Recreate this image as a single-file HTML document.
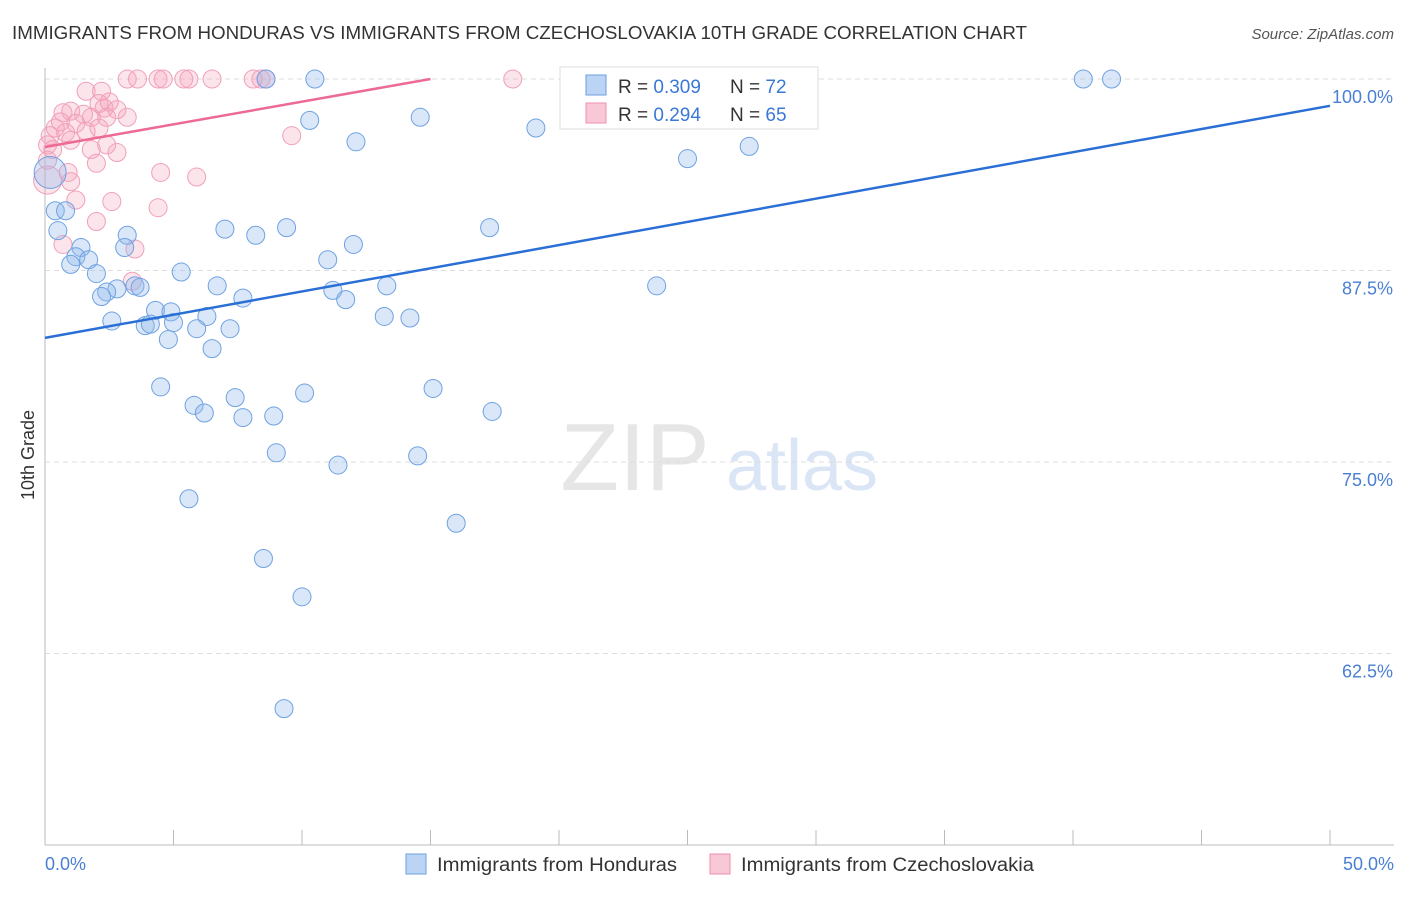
<!DOCTYPE html>
<html><head><meta charset="utf-8">
<style>
body{margin:0;background:#fff;font-family:"Liberation Sans",sans-serif;}
svg text{font-family:"Liberation Sans",sans-serif;}
</style></head>
<body>
<svg width="1406" height="892" xmlns="http://www.w3.org/2000/svg">
<text x="12" y="39" font-size="18" fill="#333" textLength="1015" lengthAdjust="spacingAndGlyphs">IMMIGRANTS FROM HONDURAS VS IMMIGRANTS FROM CZECHOSLOVAKIA 10TH GRADE CORRELATION CHART</text>
<text x="1394" y="39" font-size="15" fill="#555" text-anchor="end" font-style="italic">Source: ZipAtlas.com</text>
<g>
<text x="635" y="490" font-size="96" fill="#e6e6e6" text-anchor="middle" font-family="Liberation Serif">ZIP</text>
<text x="802" y="490" font-size="72" fill="#dae5f5" text-anchor="middle">atlas</text>
</g>
<g id="grid"></g>
<g id="axes"></g>
<g id="pts"></g>
<g id="lines"></g>
<text transform="translate(34,455) rotate(-90)" font-size="18" fill="#333" text-anchor="middle">10th Grade</text>
<text x="45" y="870" font-size="18" fill="#4a7fd4">0.0%</text>
<text x="1394" y="870" font-size="18" fill="#4a7fd4" text-anchor="end">50.0%</text>
<g>
<rect x="560" y="67" width="258" height="62" fill="#fff" stroke="#ddd"/>
<rect x="586" y="75" width="20" height="20" fill="#bcd4f4" stroke="#6a9fe0"/>
<text x="618" y="93" font-size="19" fill="#333">R = <tspan fill="#3a78d6">0.309</tspan></text>
<text x="730" y="93" font-size="19" fill="#333">N = <tspan fill="#3a78d6">72</tspan></text>
<rect x="586" y="103" width="20" height="20" fill="#f9c8d6" stroke="#ee8fae"/>
<text x="618" y="121" font-size="19" fill="#333">R = <tspan fill="#3a78d6">0.294</tspan></text>
<text x="730" y="121" font-size="19" fill="#333">N = <tspan fill="#3a78d6">65</tspan></text>
</g>
<g>
<rect x="406" y="854" width="20" height="20" fill="#bcd4f4" stroke="#6a9fe0"/>
<text x="437" y="871" font-size="19" fill="#333" textLength="240" lengthAdjust="spacingAndGlyphs">Immigrants from Honduras</text>
<rect x="710" y="854" width="20" height="20" fill="#f9c8d6" stroke="#ee8fae"/>
<text x="741" y="871" font-size="19" fill="#333" textLength="293" lengthAdjust="spacingAndGlyphs">Immigrants from Czechoslovakia</text>
</g>
</svg>
<script>
const yTicks=[100,87.5,75,62.5];
const yTickLabels=["100.0%","87.5%","75.0%","62.5%"];
const xTicks=[0,5,10,15,20,25,30,35,40,45,50];
const blueX=[8.6,10.5,24.4,28.1,40.4,41.5,10.3,14.6,19.1,12.1,25.0,27.4,0.2,0.4,0.8,0.5,7.0,8.2,9.4,17.3,3.2,3.1,1.4,1.2,1.7,1.0,2.0,11.0,12.0,5.3,6.7,2.8,2.4,2.2,3.5,3.7,11.2,11.7,13.3,7.7,23.8,4.3,4.9,2.6,3.9,4.1,5.0,6.3,5.9,7.2,4.8,6.5,13.2,14.2,4.5,10.1,15.1,7.4,5.8,6.2,7.7,8.9,17.4,9.0,14.5,11.4,5.6,16.0,8.5,10.0,9.3];
const blueY=[100,100,100,100,100,100,97.3,97.5,96.8,95.9,94.8,95.6,93.9,91.4,91.4,90.1,90.2,89.8,90.3,90.3,89.8,89.0,89.0,88.4,88.2,87.9,87.3,88.2,89.2,87.4,86.5,86.3,86.1,85.8,86.5,86.4,86.2,85.6,86.5,85.7,86.5,84.9,84.8,84.2,83.9,84.0,84.1,84.5,83.7,83.7,83.0,82.4,84.5,84.4,79.9,79.5,79.8,79.2,78.7,78.2,77.9,78.0,78.3,75.6,75.4,74.8,72.6,71.0,68.7,66.2,58.9];
const pinkX=[3.2,3.6,4.4,4.6,5.4,5.6,6.5,8.1,8.4,8.6,18.2,1.6,2.2,2.1,2.5,0.7,1.0,1.5,2.8,2.3,3.2,2.4,1.8,0.6,1.2,2.1,0.4,0.2,0.8,1.6,1.0,0.1,0.3,9.6,1.8,2.4,2.8,2.0,0.1,0.1,0.9,1.0,4.5,5.9,1.2,2.6,4.4,2.0,0.7,3.5,3.4];
const pinkY=[100,100,100,100,100,100,100,100,100,100,100,99.2,99.2,98.4,98.5,97.8,97.9,97.7,98.0,98.1,97.5,97.5,97.5,97.2,97.1,96.8,96.8,96.3,96.5,96.6,96.0,95.7,95.4,96.3,95.4,95.7,95.2,94.5,94.7,93.4,93.9,93.3,93.9,93.6,92.1,92.0,91.6,90.7,89.2,88.9,86.8];
const blueTrend=[83.1,0.303,0,50];
const pinkTrend=[95.56,0.296,0,15];
const X0=45,X1=1330,Y100=79,PX_PER=191.5/12.5;
const sx=v=>X0+(X1-X0)*v/50;
const sy=v=>Y100+(100-v)*PX_PER;
const NS="http://www.w3.org/2000/svg";
function mk(tag,attrs,parent){const e=document.createElementNS(NS,tag);for(const k in attrs)e.setAttribute(k,attrs[k]);parent.appendChild(e);return e;}
const grid=document.getElementById('grid'),axes=document.getElementById('axes'),pts=document.getElementById('pts'),lines=document.getElementById('lines');
yTicks.forEach((t,i)=>{
 const l=mk('line',{x1:X0,x2:1394,y1:sy(t),y2:sy(t),stroke:'#ddd','stroke-dasharray':'5,4'},grid);
 
 
 const tx=mk('text',{x:1393,y:sy(t)+24,'font-size':18,fill:'#4a7fd4','text-anchor':'end'},grid);
 tx.textContent=yTickLabels[i];
 
 
});
const ax=mk('line',{x1:X0,x2:1394,y1:845,y2:845,stroke:'#bbb'},axes);


const ay=mk('line',{x1:X0,x2:X0,y1:68,y2:845,stroke:'#bbb'},axes);


xTicks.forEach(t=>{
 const l=mk('line',{x1:sx(t),x2:sx(t),y1:830,y2:845,stroke:'#bbb'},axes);
 
 
});
function dots(xs,ys,fill,stroke,name,bigIdx,bigR){
 xs.forEach((x,i)=>{
  const r=(i===bigIdx)?bigR:9;
  const c=mk('circle',{cx:sx(x),cy:sy(ys[i]),r:r,fill:fill,stroke:stroke,'stroke-width':1},pts);
  
  
 });
}
dots(pinkX,pinkY,'rgba(244,167,190,0.3)','#f0a0bb','point-czechoslovakia',39,14);
dots(blueX,blueY,'rgba(147,187,235,0.35)','#6fa2e2','point-honduras',12,16);
function trend(t,color,name){
 const l=mk('line',{x1:sx(t[2]),y1:sy(t[0]+t[1]*t[2]),x2:sx(t[3]),y2:sy(t[0]+t[1]*t[3]),stroke:color,'stroke-width':2.5},lines);
 
 
}
trend(blueTrend,'#2a6fd6','trendline-honduras');
trend(pinkTrend,'#ec6a93','trendline-czechoslovakia');
</script>
</body></html>
